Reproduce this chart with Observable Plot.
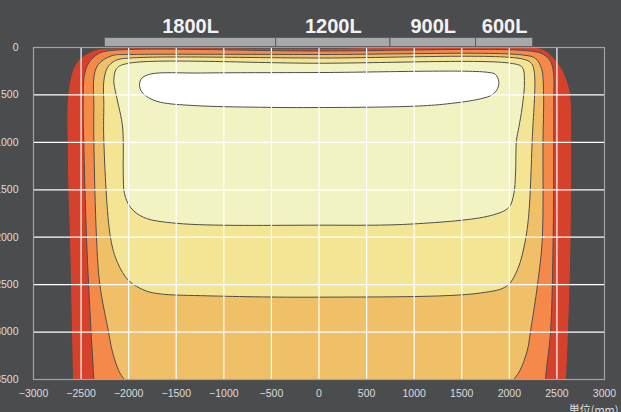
<!DOCTYPE html>
<html>
<head>
<meta charset="utf-8">
<script src="https://cdn.jsdelivr.net/npm/d3@7"></script>
<script src="https://cdn.jsdelivr.net/npm/@observablehq/plot@0.6"></script>
<style>
  html, body { margin: 0; padding: 0; background: #4b4c4e; }
  #chart { width: 621px; height: 412px; overflow: hidden; }
  g[aria-label="tank labels"] text { font-family: 'DejaVu Sans', sans-serif; font-stretch: condensed; }
</style>
</head>
<body>
<div id="chart"></div>
<script>
// ---- tick values ----
const xTicks = [-3000, -2500, -2000, -1500, -1000, -500, 0, 500, 1000, 1500, 2000, 2500, 3000];
const yTicks = [0, 500, 1000, 1500, 2000, 2500, 3000, 3500];
const xGrid = [-2500, -2000, -1500, -1000, -500, 0, 500, 1000, 1500, 2000, 2500];
const yGrid = [500, 1000, 1500, 2000, 2500, 3000];

// ---- tank sections above the chart ----
const tankLabels = ["1800L", "1200L", "900L", "600L"];
const tankStart = [-2250, -450, 750, 1650];
const tankEnd = [-450, 750, 1650, 2250];

// ---- contour outlines [x mm, depth mm] ----
const redOutline = [
  [-2243, 10], [0, 10], [2327, 10], [2464, 109], [2556, 232], [2608, 356], [2643, 496],
  [2653, 770], [2648, 2036], [2622, 2986], [2601, 3503], [2590, 3935], [2590, 4300],
  [-2590, 4300], [-2590, 3935], [-2590, 3503], [-2601, 2986], [-2622, 1994], [-2638, 1509],
  [-2646, 981], [-2646, 601], [-2611, 320], [-2559, 179], [-2453, 74], [-2331, 21]
];
const orangeOutline = [
  [-2226, 37], [0, 37], [2222, 37], [2359, 74], [2433, 148], [2464, 264], [2467, 559],
  [2467, 981], [2461, 1962], [2433, 2996], [2380, 3503], [2370, 3935], [2370, 4300],
  [-2349, 4300], [-2349, 3935], [-2366, 3503], [-2395, 2996], [-2443, 2004], [-2472, 981],
  [-2478, 601], [-2464, 285], [-2419, 161], [-2331, 74]
];
const lightOrangeOutline = [
  [-2015, 74], [0, 74], [2138, 79], [2275, 116], [2338, 222], [2359, 454], [2354, 981],
  [2345, 2036], [2296, 2500], [2222, 2996], [2188, 3197], [2110, 3408], [2044, 3503],
  [1886, 3724], [1600, 3950], [-1600, 3950], [-1876, 3724], [-2044, 3503], [-2104, 3408],
  [-2173, 3197], [-2212, 2996], [-2303, 2500], [-2338, 2004], [-2366, 981], [-2366, 601],
  [-2366, 320], [-2331, 197], [-2261, 127], [-2156, 81]
];
const yellowOutline = [
  [-1981, 111], [0, 111], [2138, 121], [2233, 169], [2264, 274], [2240, 981], [2205, 1750],
  [2165, 2050], [2090, 2330], [1978, 2511], [1697, 2588], [0, 2632], [-1245, 2616],
  [-1665, 2598], [-1823, 2564], [-1999, 2458], [-2117, 2268], [-2191, 2004], [-2261, 981],
  [-2261, 601], [-2261, 356], [-2222, 211], [-2138, 137]
];
const paleOutline = [
  [-2015, 169], [0, 166], [2012, 166], [2135, 208], [2159, 348], [2135, 630], [2100, 841],
  [2075, 981], [2065, 1332], [2047, 1543], [1995, 1685], [1802, 1772], [993, 1860],
  [0, 1873], [-1490, 1854], [-1844, 1790], [-1981, 1685], [-2044, 1540], [-2057, 1329],
  [-2057, 981], [-2068, 802], [-2141, 454], [-2156, 348], [-2127, 222]
];
const whiteOutline = [
  [-1886, 390], [-1865, 327], [-1771, 280], [-1245, 269], [0, 264], [1767, 261], [1855, 285],
  [1889, 359], [1876, 433], [1823, 496], [1697, 541], [1347, 594], [996, 619], [0, 633],
  [-615, 630], [-1316, 612], [-1666, 577], [-1792, 528], [-1865, 464]
];

const outlines = [redOutline, orangeOutline, lightOrangeOutline, yellowOutline, paleOutline, whiteOutline];
const fills = ["#d5412b", "#f5894a", "#f0c069", "#f4e595", "#f2f3c3", "#ffffff"];

const tankIdx = tankLabels.map((_, i) => i);
const fmt = d => (d < 0 ? "\u2212" + Math.abs(d) : String(d));

const contourMarks = outlines.map((pts, i) =>
  Plot.line(pts, {
    x: d => d[0], y: d => d[1],
    curve: "catmull-rom-closed",
    fill: fills[i], stroke: "#4d4d4d", strokeWidth: 1,
    clip: true
  })
);

const chart = Plot.plot({
  width: 621,
  height: 412,
  marginTop: 47,
  marginBottom: 33,
  marginLeft: 33,
  marginRight: 17,
  style: {
    background: "#4b4c4e",
    color: "#dcdcdc",
    fontFamily: "'Liberation Sans', Arial, sans-serif",
    fontSize: "10.5px",
    overflow: "visible"
  },
  x: { domain: [-3000, 3000], ticks: xTicks, tickFormat: fmt, tickSize: 0, tickPadding: 10, label: null },
  y: { domain: [0, 3500], reverse: true, ticks: yTicks, tickFormat: fmt, tickSize: 0, tickPadding: 15, label: null },
  marks: [
    ...contourMarks,
    Plot.ruleX(xGrid, { stroke: "white", strokeWidth: 1.2 }),
    Plot.ruleY(yGrid, { stroke: "white", strokeWidth: 1.2 }),
    Plot.frame({ stroke: "#a3a3a3", strokeWidth: 1.2 }),
    Plot.rect(tankIdx, {
      x1: i => tankStart[i], x2: i => tankEnd[i], y1: -100, y2: -4,
      fill: "#a7a8aa", stroke: "#5c5d5f", strokeWidth: 1
    }),
    Plot.text(tankIdx, {
      x: i => (tankStart[i] + tankEnd[i]) / 2,
      text: i => tankLabels[i],
      frameAnchor: "top", dy: -29,
      fill: "#f2f2f2", fontSize: 20, fontWeight: "bold",
      ariaLabel: "tank labels"
    }),
    Plot.text(["単位(mm)"], {
      frameAnchor: "bottom-right", dx: 14, dy: 27,
      textAnchor: "end", lineAnchor: "top",
      fill: "#dcdcdc", fontSize: 11,
      fontFamily: "'Noto Sans CJK JP', sans-serif"
    })
  ]
});
document.getElementById("chart").appendChild(chart);

// narrow the tank labels to the condensed width of the original lettering
d3.select(chart).selectAll('g[aria-label="tank labels"] text').each(function () {
  const w = this.getComputedTextLength();
  if (w > 0) {
    this.setAttribute("textLength", (w * 0.84).toFixed(1));
    this.setAttribute("lengthAdjust", "spacingAndGlyphs");
  }
});
</script>
</body>
</html>
